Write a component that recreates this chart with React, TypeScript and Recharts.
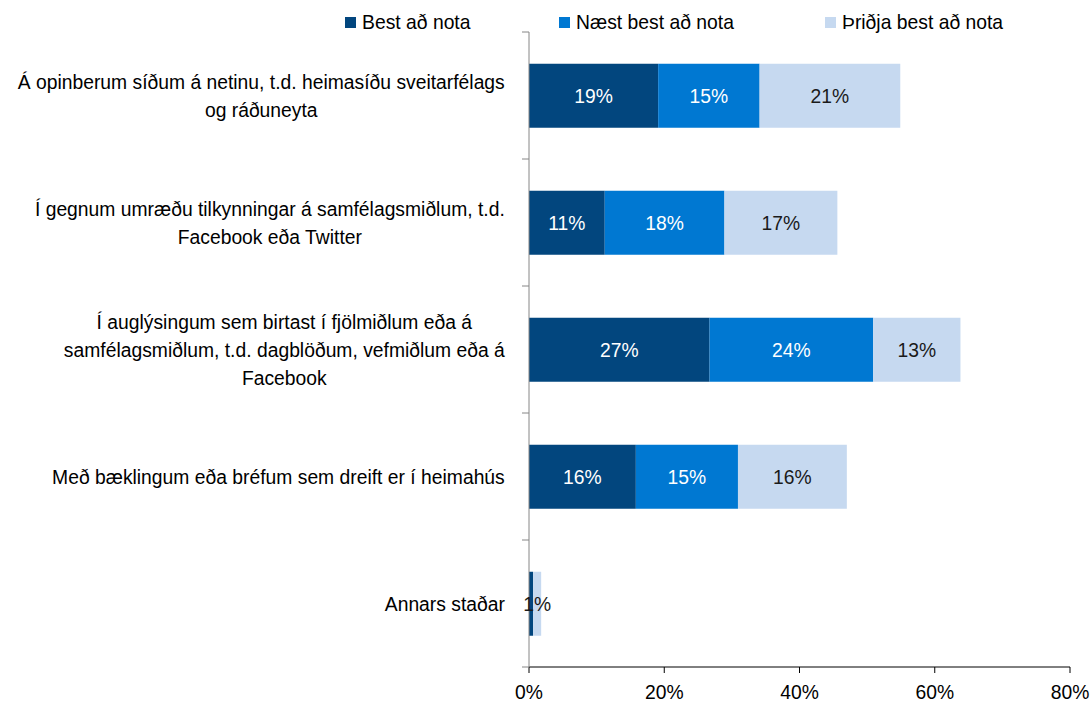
import { BarChart, Bar, XAxis, YAxis, LabelList } from 'recharts'

const categories = [
  'Á opinberum síðum á netinu, t.d. heimasíðu sveitarfélags\nog ráðuneyta',
  'Í gegnum umræðu tilkynningar á samfélagsmiðlum, t.d.\nFacebook eða Twitter',
  'Í auglýsingum sem birtast í fjölmiðlum eða á\nsamfélagsmiðlum, t.d. dagblöðum, vefmiðlum eða á\nFacebook',
  'Með bæklingum eða bréfum sem dreift er í heimahús',
  'Annars staðar',
]
const best = [19.1, 11.2, 26.7, 15.8, 0.6]
const nextBest = [15.0, 17.7, 24.2, 15.1, 0]
const thirdBest = [20.8, 16.7, 12.9, 16.1, 1.2]
const seriesNames = ['Best að nota', 'Næst best að nota', 'Þriðja best að nota']
const xTicks = [0, 20, 40, 60, 80]

const COLORS = ['#02467e', '#0078d2', '#c6d9f0']
const LABEL_FILL = ['#ffffff', '#ffffff', '#1a1a1a']
const FONT = '"Liberation Sans", Arial, sans-serif'
const FS = 21
const SX = 0.92 // the original type is a touch narrower than Arial

const W = 1091
const H = 706
const TOP = 32
const X_AXIS_H = 39
const Y_AXIS_W = 529
const TICK_GAP = 24
const BAND = (H - TOP - X_AXIS_H) / categories.length

let ctx: CanvasRenderingContext2D | null = null
function textWidth(s: string) {
  if (!ctx) ctx = document.createElement('canvas').getContext('2d')
  if (!ctx) return s.length * FS * 0.45
  ctx.font = `${FS}px ${FONT}`
  return ctx.measureText(s).width * SX
}

const data = categories.map((name, i) => ({
  name,
  best: best[i],
  nextBest: nextBest[i],
  thirdBest: thirdBest[i],
}))

function NarrowText({ x, y, fill = '#000', children }: any) {
  return (
    <text transform={`translate(${x},${y}) scale(${SX},1)`} textAnchor="middle" dominantBaseline="central"
      fontFamily={FONT} fontSize={FS} fill={fill}>
      {children}
    </text>
  )
}

function CategoryTick(props: any) {
  const { x, y, payload, index } = props
  const lines = String(payload.value).split('\n')
  const maxW = Math.max(...lines.map(textWidth))
  const cx = x - maxW / 2
  const lh = 28
  const y0 = y - ((lines.length - 1) * lh) / 2
  const ax = x + TICK_GAP
  return (
    <g>
      {lines.map((l, i) => (
        <NarrowText key={i} x={cx} y={y0 + i * lh}>{l}</NarrowText>
      ))}
      <line x1={ax - 7} x2={ax} y1={y - BAND / 2} y2={y - BAND / 2} stroke="#868686" />
      {index === categories.length - 1 && (
        <line x1={ax - 7} x2={ax} y1={y + BAND / 2} y2={y + BAND / 2} stroke="#868686" />
      )}
    </g>
  )
}

function PercentTick(props: any) {
  const { x, y, payload } = props
  return <NarrowText x={x} y={y + 17}>{`${payload.value}%`}</NarrowText>
}

// stacked bars hand the label the running total, so look the segment value up by row
function makeLabel(values: number[], fill: string) {
  return (props: any) => {
    const { x, y, width, height, index } = props
    const value = values[index]
    if (value == null || value < 1) return null
    return (
      <NarrowText x={Number(x) + Number(width) / 2} y={Number(y) + Number(height) / 2} fill={fill}>
        {`${Math.round(value)}%`}
      </NarrowText>
    )
  }
}

const series = [
  { key: 'best', values: best },
  { key: 'nextBest', values: nextBest },
  { key: 'thirdBest', values: thirdBest },
]
const legendPos = [345, 559, 825]

export default function App() {
  return (
    <div style={{ position: 'absolute', left: 0, top: 0, width: W, height: H, background: '#fff' }}>
      {seriesNames.map((n, i) => (
        <div key={n} style={{ position: 'absolute', left: legendPos[i], top: 10, height: 24, display: 'flex', alignItems: 'center' }}>
          <span style={{ width: 11, height: 11, background: COLORS[i], display: 'inline-block' }} />
          <span style={{ marginLeft: 6, fontFamily: FONT, fontSize: FS, color: '#000', lineHeight: '24px', display: 'inline-block', transform: `scaleX(${SX})`, transformOrigin: 'left center', whiteSpace: 'nowrap' }}>
            {n}
          </span>
        </div>
      ))}
      <BarChart width={W} height={H} data={data} layout="vertical"
        margin={{ top: TOP, right: 21, bottom: 0, left: 0 }} barCategoryGap="25%">
        <XAxis type="number" domain={[0, 80]} ticks={xTicks}
          height={X_AXIS_H} axisLine={{ stroke: '#000' }} tickLine={{ stroke: '#000' }} tickSize={6}
          tick={<PercentTick />} interval={0} />
        <YAxis type="category" dataKey="name" width={Y_AXIS_W} axisLine={{ stroke: '#868686' }}
          tickLine={false} tickSize={0} tickMargin={TICK_GAP} tick={<CategoryTick />} interval={0} />
        {series.map((s, i) => (
          <Bar key={s.key} dataKey={s.key} stackId="a" fill={COLORS[i]} isAnimationActive={false}>
            <LabelList dataKey={s.key} content={makeLabel(s.values, LABEL_FILL[i])} />
          </Bar>
        ))}
      </BarChart>
    </div>
  )
}
